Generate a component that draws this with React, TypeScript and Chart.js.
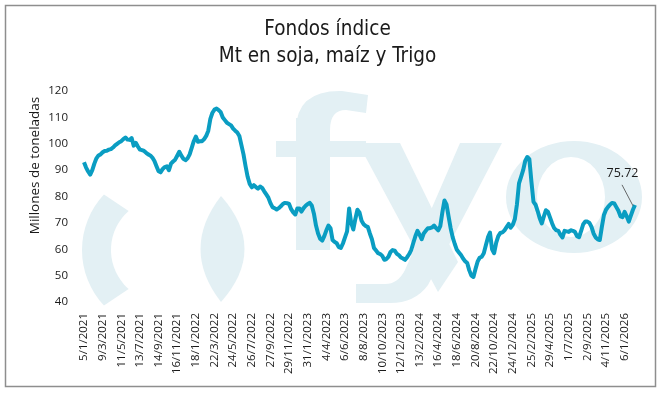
import React, { useEffect, useRef } from 'react';
import { Chart, registerables } from 'chart.js';

Chart.register(...registerables);

// ---------- data ----------
const titleLines = ['Fondos índice', 'Mt en soja, maíz y Trigo'];
const yAxisTitle = 'Millones de toneladas';
const startDate = { year: 2021, month: 1, day: 5 }; // weekly series starts 5/1/2021
const tickEvery = 9; // one label every 9 weeks
const tickLabels = [
  '5/1/2021', '9/3/2021', '11/5/2021', '13/7/2021', '14/9/2021', '16/11/2021',
  '18/1/2022', '22/3/2022', '24/5/2022', '26/7/2022', '27/9/2022', '29/11/2022',
  '31/1/2023', '4/4/2023', '6/6/2023', '8/8/2023', '10/10/2023', '12/12/2023',
  '13/2/2024', '16/4/2024', '18/6/2024', '20/8/2024', '22/10/2024', '24/12/2024',
  '25/2/2025', '29/4/2025', '1/7/2025', '2/9/2025', '4/11/2025', '6/1/2026',
];
const yMin = 40;
const yMax = 120;
const yStep = 10;
const lastValueLabel = 75.72;

// Mt held by index funds (soy, corn, wheat), weekly
const fundsMt = [
  93.0, 91.0, 89.5, 88.3, 90.0, 92.5, 94.5, 95.6, 96.0, 96.8,
  97.3, 97.4, 97.8, 98.0, 98.6, 99.4, 100.0, 100.6, 101.0, 101.8,
  102.4, 101.6, 101.5, 102.2, 99.3, 100.4, 99.0, 97.8, 97.6, 97.3,
  96.6, 96.0, 95.6, 94.8, 93.5, 91.5, 89.6, 89.2, 90.5, 91.2,
  91.5, 90.0, 92.5, 93.3, 94.0, 95.5, 97.0, 95.5, 94.3, 93.8,
  94.5, 96.0, 98.5, 101.0, 102.8, 100.8, 101.0, 101.0, 101.8, 103.0,
  105.0, 109.5, 111.8, 113.0, 113.4, 112.8, 112.0, 110.0, 109.0, 108.0,
  107.5, 107.0, 105.8, 105.0, 104.3, 103.0, 99.5, 96.0, 91.5, 87.5,
  84.8, 83.5, 84.3, 83.6, 83.0, 83.8, 83.3, 82.0, 80.8, 79.6,
  77.5, 76.0, 75.6, 75.1, 75.6, 76.3, 77.2, 77.6, 77.5, 77.2,
  75.2, 74.0, 73.2, 75.5, 75.5, 74.3, 75.6, 76.5, 77.2, 77.6,
  76.5, 73.5, 69.0, 66.0, 64.0, 63.3, 65.0, 67.2, 69.0, 68.0,
  63.5, 62.8, 62.3, 60.8, 60.5, 62.2, 64.5, 66.8, 75.5, 70.0,
  67.5, 71.5, 75.0, 74.0, 70.8, 69.5, 68.8, 68.5, 66.0, 63.8,
  60.5, 59.5, 58.5, 58.2, 57.5, 56.0, 56.3, 57.2, 59.0, 59.7,
  59.5, 58.3, 57.8, 56.9, 56.5, 56.0, 57.0, 58.2, 59.8, 62.5,
  65.0, 67.0, 65.5, 63.8, 66.0, 67.0, 68.0, 68.0, 68.3, 69.0,
  68.0, 67.2, 68.8, 74.0, 78.5, 77.0, 72.5, 68.0, 64.5, 62.0,
  59.8, 58.8, 57.8, 56.5, 55.5, 54.8, 52.0, 50.0, 49.5, 52.5,
  55.3, 56.8, 57.2, 58.5, 61.5, 64.5, 66.3, 60.0, 58.5, 62.5,
  65.0, 66.2, 66.4, 67.2, 68.4, 69.6, 68.2, 69.3, 71.5, 77.0,
  85.0, 87.5, 90.0, 93.5, 95.0, 94.2, 85.6, 78.0, 76.9, 74.5,
  71.8, 69.8, 72.5, 74.8, 74.2, 72.0, 69.8, 68.0, 67.2, 67.0,
  65.5, 64.5, 67.0, 66.8, 66.6, 67.2, 67.0, 66.6, 65.0, 64.6,
  67.0, 69.5, 70.5, 70.5, 70.0, 68.5, 66.0, 64.5, 63.8, 63.5,
  68.5, 73.0, 75.0, 76.1, 77.0, 77.6, 77.4, 76.0, 74.6, 72.5,
  72.2, 74.2, 72.5, 70.5, 72.8, 75.0, 76.8,
];

// weekly category labels (d/m/yyyy)
function weeklyDates(n: number): string[] {
  const out: string[] = [];
  const base = Date.UTC(startDate.year, startDate.month - 1, startDate.day);
  for (let i = 0; i < n; i++) {
    const d = new Date(base + i * 7 * 86400000);
    out.push(`${d.getUTCDate()}/${d.getUTCMonth() + 1}/${d.getUTCFullYear()}`);
  }
  return out;
}
const categories = weeklyDates(fundsMt.length);

// ---------- styles ----------
const LINE_COLOR = '#0a9dc2';
const LOGO_COLOR = '#e3f0f4';
const TEXT_COLOR = '#1a1a1a';
const TITLE_FONT = "'DejaVu Sans Condensed', 'Liberation Sans Narrow', sans-serif";
const TICK_FONT = "'Open Sans', 'Noto Sans', sans-serif";

const framePlugin = {
  id: 'frameAndLogo',
  beforeDraw(chart: any) {
    const ctx = chart.ctx as CanvasRenderingContext2D;
    ctx.save();
    ctx.fillStyle = '#ffffff';
    ctx.fillRect(0, 0, chart.width, chart.height);
    ctx.strokeStyle = '#8e8e8e';
    ctx.lineWidth = 1.5;
    ctx.strokeRect(5.5, 5.5, 650, 381);

    // watermark logo
    ctx.fillStyle = LOGO_COLOR;
    const cx = 163, cy = 250;
    ctx.beginPath();
    ctx.arc(cx, cy, 81, Math.PI * 0.76, Math.PI * 1.24);
    ctx.arc(cx, cy, 52, Math.PI * 1.27, Math.PI * 0.73, true);
    ctx.closePath();
    ctx.fill();
    ctx.beginPath();
    ctx.moveTo(221, 196);
    ctx.quadraticCurveTo(180, 249, 221, 302);
    ctx.quadraticCurveTo(268, 249, 221, 196);
    ctx.closePath();
    ctx.fill();
    // f
    ctx.fillRect(296, 118, 34, 132);
    ctx.fillRect(276, 141, 90, 16);
    ctx.beginPath();
    ctx.moveTo(296, 130);
    ctx.quadraticCurveTo(296, 90, 342, 91);
    ctx.lineTo(368, 95);
    ctx.lineTo(366, 113);
    ctx.lineTo(346, 110);
    ctx.quadraticCurveTo(330, 110, 330, 130);
    ctx.closePath();
    ctx.fill();
    // y
    ctx.beginPath();
    ctx.moveTo(358, 143);
    ctx.lineTo(400, 143);
    ctx.lineTo(458, 262);
    ctx.lineTo(438, 292);
    ctx.closePath();
    ctx.fill();
    ctx.beginPath();
    ctx.moveTo(460, 143);
    ctx.lineTo(502, 143);
    ctx.lineTo(428, 285);
    ctx.quadraticCurveTo(415, 303, 390, 303);
    ctx.lineTo(356, 303);
    ctx.lineTo(356, 284);
    ctx.lineTo(385, 284);
    ctx.quadraticCurveTo(398, 284, 405, 270);
    ctx.closePath();
    ctx.fill();
    // o
    ctx.beginPath();
    ctx.ellipse(574, 197, 68, 56, 0, 0, Math.PI * 2);
    ctx.ellipse(571, 197, 34, 40, 0, 0, Math.PI * 2);
    ctx.fill('evenodd');
    ctx.restore();
  },
  afterDraw(chart: any) {
    const ctx = chart.ctx as CanvasRenderingContext2D;
    // y-axis title
    ctx.save();
    ctx.translate(35, 165.5);
    ctx.rotate(-Math.PI / 2);
    ctx.fillStyle = TEXT_COLOR;
    ctx.font = `13.5px ${TICK_FONT}`;
    ctx.textAlign = 'center';
    ctx.textBaseline = 'middle';
    ctx.fillText(yAxisTitle, 0, 0);
    ctx.restore();
  },
  afterDatasetsDraw(chart: any) {
    const ctx = chart.ctx as CanvasRenderingContext2D;
    const x = chart.scales.x.getPixelForValue(fundsMt.length - 1);
    const y = chart.scales.y.getPixelForValue(lastValueLabel);
    ctx.save();
    ctx.strokeStyle = '#444';
    ctx.lineWidth = 0.8;
    ctx.beginPath();
    ctx.moveTo(x - 13, y - 23);
    ctx.lineTo(x - 2, y - 2);
    ctx.stroke();
    ctx.fillStyle = TEXT_COLOR;
    ctx.font = `12.5px ${TICK_FONT}`;
    ctx.textAlign = 'center';
    ctx.textBaseline = 'middle';
    ctx.fillText(lastValueLabel.toFixed(2), x - 12.5, y - 34);
    ctx.restore();
  },
};

export default function App() {
  const ref = useRef<HTMLCanvasElement | null>(null);
  useEffect(() => {
    if (!ref.current) return;
    const chart = new Chart(ref.current, {
      type: 'line',
      data: {
        labels: categories,
        datasets: [
          {
            data: fundsMt,
            borderColor: LINE_COLOR,
            borderWidth: 4,
            pointRadius: 0,
            tension: 0,
            fill: false,
            borderJoinStyle: 'round',
          },
        ],
      },
      options: {
        responsive: false,
        animation: false,
        devicePixelRatio: 1,
        layout: { padding: { left: 20, right: 26, top: 0, bottom: 10 } },
        plugins: {
          legend: { display: false },
          tooltip: { enabled: false },
          title: {
            display: true,
            text: titleLines,
            color: TEXT_COLOR,
            font: { family: TITLE_FONT, size: 20.5, weight: 'normal', lineHeight: 1.32 },
            padding: { top: 16, bottom: 21 },
          },
        },
        scales: {
          x: {
            type: 'category',
            offset: false,
            grid: { display: false, drawTicks: false },
            border: { display: false },
            ticks: {
              autoSkip: false,
              minRotation: 90,
              maxRotation: 90,
              padding: 11,
              color: TEXT_COLOR,
              font: { family: TICK_FONT, size: 11.5 },
              callback: (_v: any, i: number) => (i % tickEvery === 0 ? tickLabels[i / tickEvery] : null),
            },
            afterFit: (s: any) => {
              s.height = 81;
            },
          },
          y: {
            min: yMin,
            max: yMax,
            grid: { display: false, drawTicks: false },
            border: { display: false },
            ticks: {
              stepSize: yStep,
              padding: 16,
              color: TEXT_COLOR,
              font: { family: TICK_FONT, size: 11.5 },
            },
            title: { display: false },
            afterFit: (s: any) => {
              s.width = 64;
            },
          },
        },
      },
      plugins: [framePlugin],
    } as any);
    return () => chart.destroy();
  }, []);
  return (
    <div style={{ position: 'absolute', left: 0, top: 0, width: 661, height: 393 }}>
      <canvas ref={ref} width={661} height={393} style={{ display: 'block' }} />
    </div>
  );
}
